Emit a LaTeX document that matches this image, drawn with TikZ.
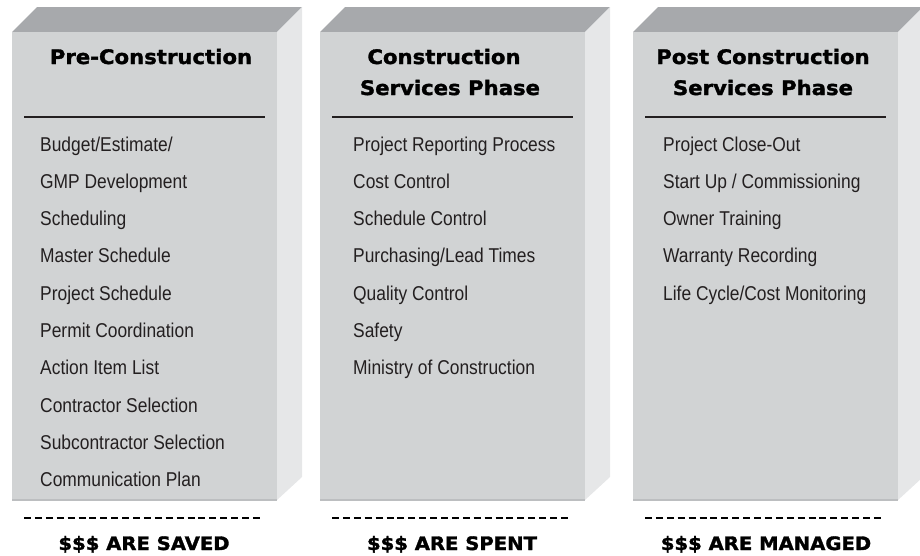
\documentclass[tikz,border=0pt]{standalone}
\usepackage{fontspec}
\newfontfamily\headfont[FakeStretch=1.06, BoldFeatures={FakeBold=1.6}]{DejaVu Sans}
\newfontfamily\itemfont[FakeStretch=0.87]{Liberation Sans}
\definecolor{frontgray}{HTML}{D1D3D4}
\definecolor{topgray}{HTML}{A7A9AC}
\definecolor{sidegray}{HTML}{E6E7E8}
\definecolor{edgegray}{HTML}{BCBEC0}
\definecolor{inkgray}{HTML}{231F20}
\tikzset{
  itemtext/.style={anchor=base west, inner sep=0pt, text=inkgray,
    font=\itemfont\fontsize{20}{20}\selectfont},
  headtext/.style={anchor=base, inner sep=0pt, text=black,
    font=\headfont\bfseries\fontsize{20}{20}\selectfont},
  foottext/.style={anchor=base, inner sep=0pt, text=black,
    font=\headfont\bfseries\fontsize{18.5}{18.5}\selectfont},
  rulerline/.style={dash pattern=on 7pt off 3.9pt, line width=2pt},
}

\begin{document}
\begin{tikzpicture}[x=1pt, y=-1pt]
  \useasboundingbox (0,0) rectangle (920,555);
  % the three blocks
  \foreach \x/\n in {12/pre,320/con,633/post} {
    \fill[topgray] (\x,32) -- ++(25,-25) -- ++(265,0) -- ++(-25,25) -- cycle;
    \fill[sidegray] (\x+265,32) -- ++(25,-25) -- ++(0,470) -- (\x+265,500) -- cycle;
    \fill[frontgray] (\x,32) rectangle (\x+265,500);
    \draw[edgegray, line width=1.2pt] (\x,500) -- (\x+265,500);
    \draw[line width=1.3pt, inkgray] (\x+12,117) coordinate (\n-l) -- (\x+253,117) coordinate (\n-r);
    \draw[rulerline] (\x+12,518) coordinate (\n-dl) -- (\x+248,518) coordinate (\n-dr);
  }
  % headings
  \node[headtext] (pre-title) at (151,64) {Pre-Construction};
  \node[headtext] (con-title) at (444,64) {Construction};
  \node[headtext] (con-sub) at (450,95) {Services Phase};
  \node[headtext] (post-title) at (763,64) {Post Construction};
  \node[headtext] (post-sub) at (763,95) {Services Phase};
  % items
  \foreach \t [count=\i] in {Budget/Estimate/, GMP Development, Scheduling, Master Schedule,
      Project Schedule, Permit Coordination, Action Item List, Contractor Selection,
      Subcontractor Selection, Communication Plan}
    \node[itemtext] (pre-\i) at (40,{151+37.3*(\i-1)}) {\t};
  \foreach \t [count=\i] in {Project Reporting Process, Cost Control, Schedule Control,
      Purchasing/Lead Times, Quality Control, Safety, Ministry of Construction}
    \node[itemtext] (con-\i) at (353,{151+37.3*(\i-1)}) {\t};
  \foreach \t [count=\i] in {Project Close-Out, Start Up / Commissioning, Owner Training,
      Warranty Recording, Life Cycle/Cost Monitoring}
    \node[itemtext] (post-\i) at (663,{151+37.3*(\i-1)}) {\t};
  % footers
  \node[foottext] (pre-foot) at (144,550) {\$\$\$ ARE SAVED};
  \node[foottext] (con-foot) at (452,550) {\$\$\$ ARE SPENT};
  \node[foottext] (post-foot) at (766,550) {\$\$\$ ARE MANAGED};
\end{tikzpicture}
\end{document}
